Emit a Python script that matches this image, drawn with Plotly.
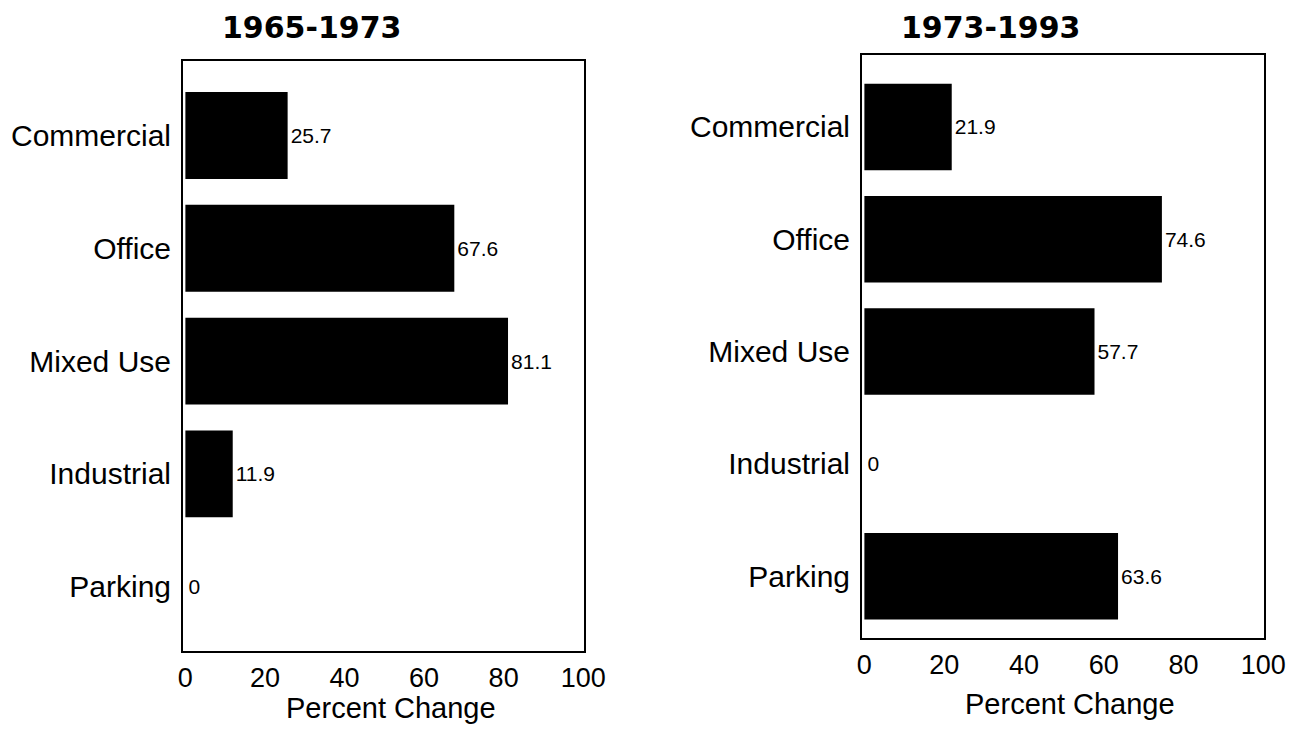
import plotly.graph_objects as go

categories = ["Commercial", "Office", "Mixed Use", "Industrial", "Parking"]
change_1965_1973 = [25.7, 67.6, 81.1, 11.9, 0]
change_1973_1993 = [21.9, 74.6, 57.7, 0, 63.6]
x_ticks = [0, 20, 40, 60, 80, 100]

W, H = 1302, 733
OFF = 8  # page body margin shifts the figure
FONT = "Liberation Sans, Arial, Helvetica, sans-serif"
TITLE_FONT = "DejaVu Sans, Liberation Sans, Arial, sans-serif"


def px_x(v):
    return (v - OFF) / W


def px_y(v):
    return 1 - (v - OFF) / H


fig = go.Figure()

# left panel (1965-1973)
fig.add_trace(go.Bar(
    x=change_1965_1973, y=categories, orientation="h",
    marker=dict(color="black", line=dict(width=0)),
    width=0.77, text=change_1965_1973, texttemplate="%{x}",
    textposition="outside", constraintext="none", cliponaxis=False,
    textfont=dict(size=21, color="black", family=FONT),
    xaxis="x", yaxis="y", showlegend=False,
))
# right panel (1973-1993)
fig.add_trace(go.Bar(
    x=change_1973_1993, y=categories, orientation="h",
    marker=dict(color="black", line=dict(width=0)),
    width=0.77, text=change_1973_1993, texttemplate="%{x}",
    textposition="outside", constraintext="none", cliponaxis=False,
    textfont=dict(size=21, color="black", family=FONT),
    xaxis="x2", yaxis="y2", showlegend=False,
))

xax = dict(range=[-0.6, 100.2], tickvals=x_ticks, showgrid=False, zeroline=False,
           showline=True, mirror=True, linecolor="black", linewidth=2,
           ticks="", ticklabelstandoff=2,
           tickfont=dict(size=27, color="black", family=FONT))
yax = dict(type="category", categoryarray=categories, showgrid=False, zeroline=False,
           showline=True, mirror=True, linecolor="black", linewidth=2,
           ticks="", ticklabelstandoff=4,
           tickfont=dict(size=30, color="black", family=FONT))

ann = dict(xref="paper", yref="paper", showarrow=False, xanchor="center", yanchor="middle")

fig.update_layout(
    width=W, height=H,
    margin=dict(l=0, r=0, t=0, b=0, autoexpand=False),
    paper_bgcolor="white", plot_bgcolor="white",
    font=dict(family=FONT, color="black"),
    xaxis=dict(xax, domain=[px_x(183), px_x(584)], anchor="y"),
    yaxis=dict(yax, domain=[px_y(651), px_y(61)], range=[4.57, -0.66], anchor="x"),
    xaxis2=dict(xax, domain=[px_x(862), px_x(1264)], anchor="y2"),
    yaxis2=dict(yax, domain=[px_y(638), px_y(55)], range=[4.55, -0.64], anchor="x2"),
    annotations=[
        dict(ann, text="<b>1965-1973</b>", x=px_x(311), y=px_y(27),
             font=dict(size=30, color="black", family=TITLE_FONT)),
        dict(ann, text="<b>1973-1993</b>", x=px_x(990), y=px_y(27),
             font=dict(size=30, color="black", family=TITLE_FONT)),
        dict(ann, text="Percent Change", x=px_x(391), y=px_y(708), font=dict(size=29, color="black")),
        dict(ann, text="Percent Change", x=px_x(1070), y=px_y(704), font=dict(size=29, color="black")),
    ],
)

fig.write_html("out.html")
